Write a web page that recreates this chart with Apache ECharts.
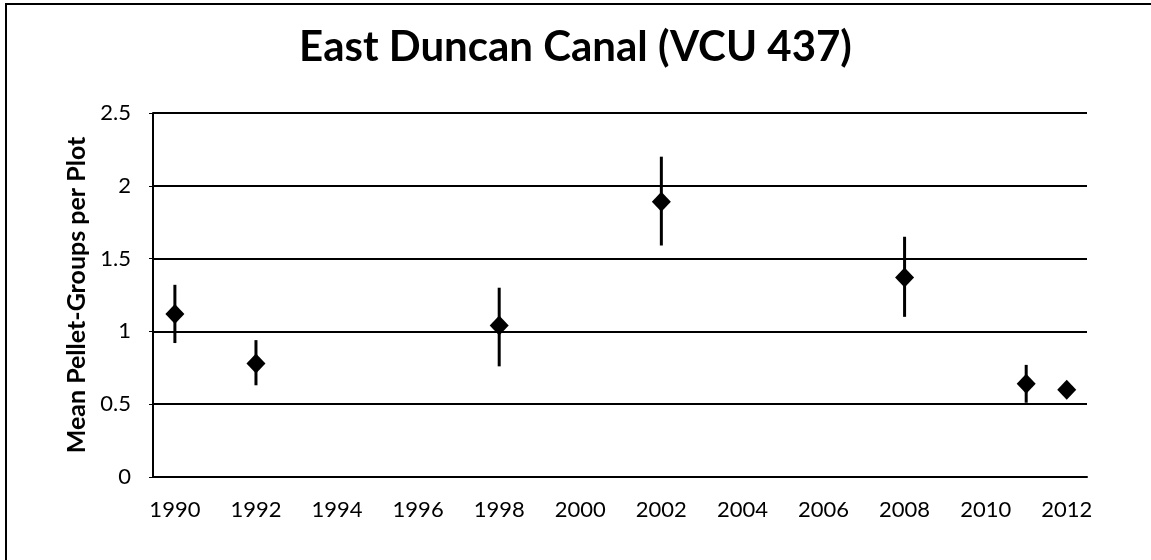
<!DOCTYPE html>
<html>
<head>
<meta charset="utf-8">
<script src="https://cdn.jsdelivr.net/npm/echarts@6/dist/echarts.min.js"></script>
<style>
html, body { margin:0; padding:0; background:#fff; }
#chart { width:1151px; height:560px; }
</style>
</head>
<body>
<div id="chart"></div>
<script>
// survey years and mean pellet-groups per plot
var years = [1990, 1992, 1998, 2002, 2008, 2011, 2012];
var means = [1.12, 0.78, 1.04, 1.89, 1.37, 0.64, 0.60];
var errLow = [0.92, 0.63, 0.76, 1.59, 1.10, 0.51, 0.60];
var errHigh = [1.32, 0.94, 1.30, 2.20, 1.65, 0.77, 0.60];
var yearTicks = [1990, 1992, 1994, 1996, 1998, 2000, 2002, 2004, 2006, 2008, 2010, 2012];

var pointData = [];
var barData = [];
for (var i = 0; i < years.length; i++) {
	pointData.push([years[i], means[i]]);
	barData.push([years[i], errLow[i], errHigh[i]]);
}

var fontName = 'Lato';
var mychart = echarts.init(document.getElementById('chart'));
var option = {
	backgroundColor: '#fff',
	animation: false,
	title: {
		text: 'East Duncan Canal (VCU 437)',
		left: 'center',
		top: 21,
		textStyle: { fontFamily: fontName, fontWeight: 'bold', fontSize: 42, color: '#000' }
	},
	graphic: [
		{
			type: 'rect',
			shape: { x: 6, y: 4, width: 1200, height: 600 },
			style: { fill: 'none', stroke: '#000', lineWidth: 2 }
		}
	],
	grid: { left: 153, right: 64, top: 113, bottom: 83 },
	xAxis: {
		type: 'value',
		min: 1989.46,
		max: 2012.5,
		axisLine: { show: true, onZero: false, lineStyle: { color: '#000', width: 2 } },
		axisTick: { show: false },
		splitLine: { show: false },
		axisLabel: {
			customValues: yearTicks,
			formatter: function (v) { return String(v); },
			margin: 22,
			fontFamily: fontName,
			fontSize: 22,
			color: '#000'
		}
	},
	yAxis: {
		type: 'value',
		min: 0,
		max: 2.5,
		interval: 0.5,
		name: 'Mean Pellet-Groups per Plot',
		nameLocation: 'middle',
		nameGap: 62,
		nameTextStyle: { fontFamily: fontName, fontWeight: 'bold', fontSize: 25, color: '#000' },
		axisLine: { show: true, lineStyle: { color: '#000', width: 2 } },
		axisTick: { show: true, length: 4, lineStyle: { color: '#000', width: 1 } },
		splitLine: { show: true, lineStyle: { color: '#000', width: 2 } },
		axisLabel: { margin: 22, fontFamily: fontName, fontSize: 22, color: '#000' }
	},
	series: [
		{
			type: 'custom',
			data: barData,
			z: 2,
			renderItem: function (params, api) {
				var p1 = api.coord([api.value(0), api.value(1)]);
				var p2 = api.coord([api.value(0), api.value(2)]);
				return {
					type: 'line',
					shape: { x1: p1[0], y1: p1[1], x2: p2[0], y2: p2[1] },
					style: { stroke: '#000', lineWidth: 3 }
				};
			}
		},
		{
			type: 'scatter',
			data: pointData,
			symbol: 'diamond',
			symbolSize: [19, 20],
			z: 3,
			itemStyle: { color: '#000', opacity: 1 }
		}
	]
};
mychart.setOption(option);
</script>
</body>
</html>
